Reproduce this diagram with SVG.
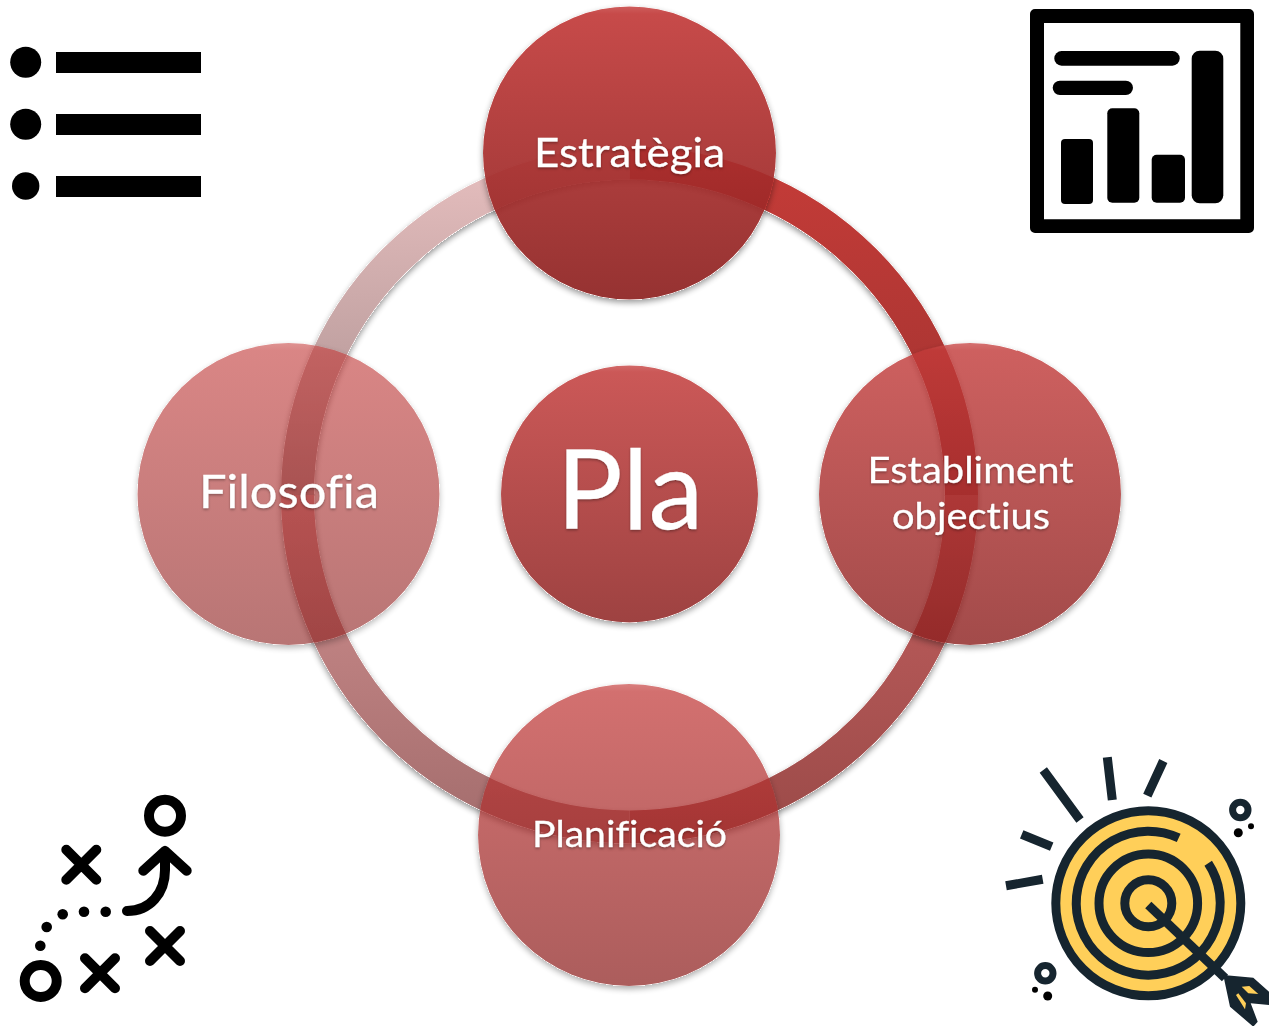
<svg xmlns="http://www.w3.org/2000/svg" width="1269" height="1026" viewBox="0 0 1269 1026">
<style>
.seg{fill:none;stroke-width:33}
.node{fill:url(#disc);filter:url(#sh)}
.lbl{font-family:Lato,"Open Sans","Liberation Sans",sans-serif;fill:#fff;text-anchor:middle;filter:url(#tsh);font-variant-ligatures:none;stroke:#fff;stroke-width:.3}
.k{fill:#000}
.ln{fill:none;stroke:#000;stroke-width:10;stroke-linecap:round;stroke-linejoin:round}
.d{fill:none;stroke:#16252f;stroke-width:9}
</style>
<defs>
<linearGradient id="disc" x1="0" y1="0" x2="0" y2="1">
<stop offset="0" stop-color="#ca4f4e"/><stop offset=".025" stop-color="#c23b3a"/><stop offset="1" stop-color="#8d2120"/>
</linearGradient>
<linearGradient id="tr" gradientUnits="userSpaceOnUse" x1="0" y1="147" x2="0" y2="495"><stop offset="0" stop-color="#c63c38"/><stop offset="1" stop-color="#9e3230"/></linearGradient>
<linearGradient id="br" gradientUnits="userSpaceOnUse" x1="0" y1="495" x2="0" y2="843"><stop offset="0" stop-color="#c46060"/><stop offset="1" stop-color="#9a4a48"/></linearGradient>
<linearGradient id="bl" gradientUnits="userSpaceOnUse" x1="0" y1="495" x2="0" y2="843"><stop offset="0" stop-color="#d29090"/><stop offset="1" stop-color="#a26c6c"/></linearGradient>
<linearGradient id="tl" gradientUnits="userSpaceOnUse" x1="0" y1="147" x2="0" y2="495"><stop offset="0" stop-color="#e8c0c0"/><stop offset="1" stop-color="#a78d8d"/></linearGradient>
<filter id="sh" x="-10%" y="-10%" width="120%" height="120%" color-interpolation-filters="sRGB">
<feGaussianBlur in="SourceAlpha" stdDeviation="3"/><feOffset dy="3" result="b"/>
<feComponentTransfer in="b" result="s"><feFuncA type="linear" slope=".45"/></feComponentTransfer>
<feComponentTransfer in="SourceAlpha" result="solid"><feFuncA type="linear" slope="50"/></feComponentTransfer>
<feComposite in="s" in2="solid" operator="out" result="o"/>
<feMerge><feMergeNode in="o"/><feMergeNode in="SourceGraphic"/></feMerge>
</filter>
<filter id="tsh" x="-10%" y="-10%" width="120%" height="130%" color-interpolation-filters="sRGB">
<feDropShadow dx="0" dy="1.5" stdDeviation="1.2" flood-color="#000" flood-opacity=".3"/>
</filter>
</defs>
<rect width="1269" height="1026" fill="#fff"/>
<g id="connectors" filter="url(#sh)">
<path class="seg" stroke="url(#tr)" d="M629.5 163A332 332 0 0 1 961.5 495"/>
<path class="seg" stroke="url(#br)" d="M961.5 495A332 332 0 0 1 629.5 827"/>
<path class="seg" stroke="url(#bl)" d="M629.5 827A332 332 0 0 1 297.5 495"/>
<path class="seg" stroke="url(#tl)" d="M297.5 495A332 332 0 0 1 629.5 163"/>
</g>
<g id="node-estrategia"><circle class="node" cx="629.500" cy="153" r="146.500" fill-opacity=".92"/><text class="lbl" x="629.500" y="167" font-size="41" textLength="191" lengthAdjust="spacingAndGlyphs">Estratègia</text></g>
<g id="node-establiment"><circle class="node" cx="970" cy="494" r="151" fill-opacity=".81"/><text class="lbl" x="970.500" y="483" font-size="36" textLength="206" lengthAdjust="spacingAndGlyphs">Establiment</text><text class="lbl" x="971" y="529" font-size="36" textLength="158" lengthAdjust="spacingAndGlyphs">objectius</text></g>
<g id="node-planificacio"><circle class="node" cx="629" cy="835" r="151" fill-opacity=".73"/><text class="lbl" x="629.500" y="847" font-size="37" textLength="195" lengthAdjust="spacingAndGlyphs">Planificació</text></g>
<g id="node-filosofia"><circle class="node" cx="288.500" cy="494" r="151" fill-opacity=".62"/><text class="lbl" x="289" y="508" font-size="46" textLength="180" lengthAdjust="spacingAndGlyphs">Filosofia</text></g>
<g id="node-pla"><circle class="node" cx="629.500" cy="494" r="128.500" fill-opacity=".85"/><text class="lbl" x="630" y="529" font-size="110" textLength="147" lengthAdjust="spacingAndGlyphs">Pla</text></g>
<g id="icon-list">
<circle class="k" cx="25.700" cy="62.300" r="15.500"/><circle class="k" cx="25.700" cy="124.300" r="15.500"/><circle class="k" cx="25.700" cy="186" r="13.700"/>
<rect class="k" x="56" y="52" width="145" height="21"/><rect class="k" x="56" y="114" width="145" height="21"/><rect class="k" x="56" y="176" width="145" height="21"/>
</g>
<g id="icon-report">
<path class="k" fill-rule="evenodd" d="M1035 9H1249a5 5 0 0 1 5 5V228a5 5 0 0 1-5 5H1035a5 5 0 0 1-5-5V14a5 5 0 0 1 5-5ZM1044 23V219.300H1240.300V23Z"/>
<rect class="k" x="1054.300" y="51" width="125.400" height="14.700" rx="7.300"/>
<rect class="k" x="1052.700" y="80.700" width="80.300" height="14.300" rx="7.200"/>
<rect class="k" x="1061" y="139" width="32" height="65" rx="4"/>
<rect class="k" x="1107.300" y="108.300" width="32" height="94.400" rx="5"/>
<rect class="k" x="1151.700" y="154.700" width="33.300" height="48" rx="5"/>
<rect class="k" x="1191.700" y="50.700" width="31.600" height="152.600" rx="8"/>
</g>
<g id="icon-play">
<circle class="ln" cx="165" cy="815.700" r="16"/><circle class="ln" cx="40.700" cy="981" r="16"/>
<path class="ln" d="M66.300 849.700L96.300 879.700M96.300 849.700L66.300 879.700"/>
<path class="ln" d="M150 931L180 961M180 931L150 961"/>
<path class="ln" d="M85 958.300L115 988.300M115 958.300L85 988.300"/>
<path class="ln" d="M127 911C150 911 165 893 165 870V852"/>
<path class="ln" d="M143.300 870.700L165 851L186.700 870.700"/>
<circle class="k" cx="105.700" cy="911.700" r="5.300"/><circle class="k" cx="84" cy="911.700" r="5.300"/><circle class="k" cx="62.700" cy="914.300" r="5.300"/><circle class="k" cx="46.700" cy="927" r="5.300"/><circle class="k" cx="40.300" cy="945.700" r="5.300"/>
</g>
<g id="icon-target">
<circle class="d" cx="1148.300" cy="903.300" r="92.500" style="fill:#ffcf59"/>
<path class="d" d="M1208.200 863.300A72 72 0 1 1 1178.700 837.900"/>
<circle class="d" cx="1148.300" cy="903.300" r="49.300"/>
<circle class="d" cx="1148.300" cy="903.300" r="23.500"/>
<path class="d" d="M1148.300 905L1225 978"/>
<path class="d" d="M1043.300 770L1080 820M1107.300 757.300L1112.300 800M1163.300 761L1147.300 795.700M1021.700 834.300L1051.700 846.700M1006 885.700L1042.700 879.300"/>
<path fill="#16252f" d="M1223.300 975L1253.300 977.700L1270 992.700V1005L1250.700 1003.300L1257.700 1021.700L1253.300 1026.700L1230 1006.700L1225 983.300Z"/>
<path fill="#ffcf59" d="M1241.700 986.700L1249.300 986L1258.300 994L1248.300 993.300Z"/>
<path fill="#ffcf59" d="M1236 995L1238.300 993.300L1246 1003.300L1245 1009.300Z"/>
<circle cx="1240.300" cy="810" r="7.700" fill="none" stroke="#16252f" stroke-width="7"/><circle class="k" cx="1238.300" cy="832.700" r="4.500"/><circle class="k" cx="1251" cy="826.300" r="3"/>
<circle cx="1045.300" cy="973.300" r="7.700" fill="none" stroke="#16252f" stroke-width="7"/><circle class="k" cx="1047.700" cy="996" r="4.500"/><circle class="k" cx="1035" cy="989.700" r="3"/>
</g>
</svg>
